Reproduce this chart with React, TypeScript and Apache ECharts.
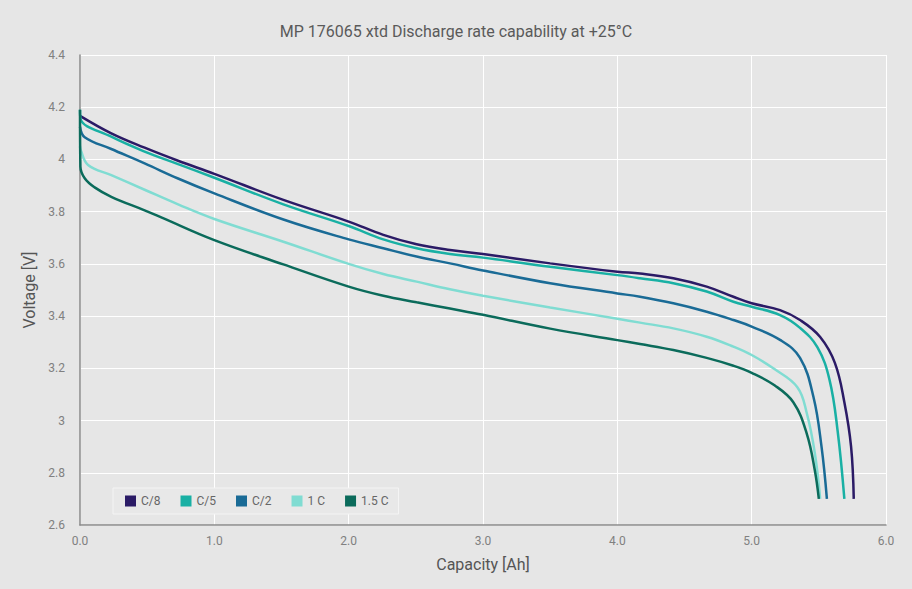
import React, { useEffect, useRef } from "react";
import * as echarts from "echarts";

const seriesNames = ["C/8", "C/5", "C/2", "1 C", "1.5 C"];
const seriesColors = ["#2b1b66", "#19b0a4", "#1a6b96", "#80dcd2", "#0b6b5b"];

const capC8 = [0, 0.233, 0.481, 0.73, 1.0, 1.514, 2.0, 2.258, 2.506, 2.754, 3.0, 3.5, 4.0, 4.169, 4.417, 4.665, 4.864, 5.0, 5.211, 5.36, 5.51, 5.62, 5.69, 5.74, 5.76];
const voltC8 = [4.167, 4.1, 4.045, 3.995, 3.945, 3.845, 3.762, 3.711, 3.675, 3.653, 3.638, 3.602, 3.57, 3.563, 3.545, 3.513, 3.474, 3.449, 3.423, 3.385, 3.32, 3.22, 3.07, 2.9, 2.7];

const capC5 = [0, 0.005, 0.233, 0.481, 0.73, 1.0, 1.514, 2.0, 2.258, 2.506, 2.754, 3.0, 3.5, 4.0, 4.169, 4.417, 4.665, 4.864, 5.0, 5.211, 5.36, 5.49, 5.58, 5.64, 5.69];
const voltC5 = [4.19, 4.154, 4.087, 4.03, 3.982, 3.93, 3.828, 3.745, 3.694, 3.66, 3.638, 3.624, 3.589, 3.557, 3.545, 3.526, 3.494, 3.455, 3.436, 3.404, 3.355, 3.28, 3.155, 2.96, 2.7];

const capC2 = [0, 0.035, 0.233, 0.481, 0.73, 1.0, 1.514, 2.0, 2.258, 2.506, 2.754, 3.0, 3.5, 4.0, 4.169, 4.417, 4.665, 4.864, 5.0, 5.211, 5.36, 5.46, 5.52, 5.56];
const voltC2 = [4.125, 4.085, 4.04, 3.985, 3.927, 3.87, 3.77, 3.694, 3.66, 3.628, 3.602, 3.575, 3.526, 3.487, 3.474, 3.449, 3.417, 3.385, 3.36, 3.309, 3.24, 3.09, 2.9, 2.7];

const cap1C = [0, 0.005, 0.06, 0.233, 0.481, 0.73, 1.0, 1.514, 2.0, 2.258, 2.506, 2.754, 3.0, 3.5, 4.0, 4.169, 4.417, 4.665, 4.864, 5.0, 5.161, 5.34, 5.41, 5.47, 5.51];
const volt1C = [4.05, 4.036, 3.979, 3.94, 3.884, 3.828, 3.772, 3.685, 3.6, 3.561, 3.532, 3.503, 3.478, 3.433, 3.39, 3.375, 3.353, 3.321, 3.283, 3.251, 3.2, 3.128, 3.029, 2.876, 2.7];

const cap15C = [0, 0.003, 0.035, 0.109, 0.233, 0.481, 0.605, 1.0, 1.514, 2.0, 2.258, 2.506, 2.754, 3.0, 3.5, 4.0, 4.169, 4.417, 4.665, 4.864, 5.0, 5.17, 5.31, 5.41, 5.47, 5.5];
const volt15C = [4.19, 3.972, 3.928, 3.893, 3.857, 3.805, 3.778, 3.691, 3.598, 3.513, 3.478, 3.453, 3.429, 3.405, 3.352, 3.308, 3.293, 3.27, 3.24, 3.21, 3.183, 3.135, 3.07, 2.95, 2.81, 2.7];

const allCaps = [capC8, capC5, capC2, cap1C, cap15C];
const allVolts = [voltC8, voltC5, voltC2, volt1C, volt15C];

const titleText = "MP 176065 xtd Discharge rate capability at +25°C";
const xName = "Capacity [Ah]";
const yName = "Voltage [V]";

export default function App() {
  const ref = useRef<HTMLDivElement>(null);
  useEffect(() => {
    if (!ref.current) return;
    const chart = echarts.init(ref.current, null, { renderer: "svg" });
    const font = "Roboto, 'DejaVu Sans', sans-serif";
    chart.setOption({
      animation: false,
      backgroundColor: "#e6e6e6",
      title: {
        text: titleText,
        left: "center",
        top: 18,
        textStyle: { fontSize: 16, fontWeight: "normal", color: "#5a5a5a", fontFamily: font },
      },
      legend: {
        left: 113,
        top: 488,
        data: seriesNames,
        icon: "rect",
        itemWidth: 11,
        itemHeight: 11,
        itemGap: 20,
        padding: [7, 10, 7, 12],
        backgroundColor: "#e8e8e8",
        borderColor: "#f4f4f4",
        borderWidth: 1,
        textStyle: { fontSize: 12, color: "#666", fontFamily: font },
      },
      grid: { left: 80, right: 26, top: 55, bottom: 64 },
      xAxis: {
        type: "value",
        min: 0,
        max: 6,
        interval: 1,
        name: xName,
        nameLocation: "middle",
        nameGap: 31,
        nameTextStyle: { fontSize: 16, color: "#555", fontFamily: font },
        axisLine: { show: true, lineStyle: { color: "#8a8a8a", width: 1.5 } },
        axisTick: { show: false },
        axisLabel: {
          color: "#808080",
          fontSize: 12,
          fontFamily: font,
          margin: 10,
          formatter: (v: number) => v.toFixed(1),
        },
        splitLine: { show: true, lineStyle: { color: "#ffffff", width: 1 } },
      },
      yAxis: {
        type: "value",
        min: 2.6,
        max: 4.4,
        interval: 0.2,
        name: yName,
        nameLocation: "middle",
        nameGap: 40,
        nameTextStyle: { fontSize: 16, color: "#555", fontFamily: font },
        axisLine: { show: true, lineStyle: { color: "#8a8a8a", width: 1.5 } },
        axisTick: { show: false },
        axisLabel: {
          color: "#808080",
          fontSize: 12,
          fontFamily: font,
          margin: 15,
          formatter: (v: number) => String(Math.round(v * 10) / 10),
        },
        splitLine: { show: true, lineStyle: { color: "#ffffff", width: 1 } },
      },
      series: seriesNames.map((name, i) => ({
        name,
        type: "line",
        showSymbol: false,
        symbol: "none",
        smooth: 0.4,
        lineStyle: { color: seriesColors[i], width: 2.5 },
        itemStyle: { color: seriesColors[i] },
        data: allCaps[i].map((c, j) => [c, allVolts[i][j]]),
      })),
    });
    return () => chart.dispose();
  }, []);
  return (
    <div
      ref={ref}
      style={{ position: "fixed", left: 0, top: 0, width: 912, height: 589 }}
    />
  );
}
